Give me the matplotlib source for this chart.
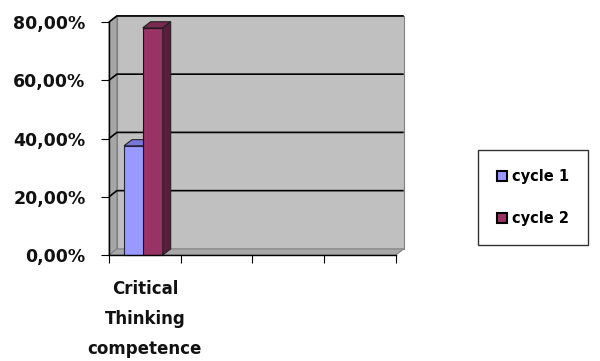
import matplotlib.pyplot as plt
from matplotlib.patches import Polygon, Rectangle

# data
categories = ["Critical\nThinking\ncompetence", "", "", ""]
series_names = ["cycle 1", "cycle 2"]
cycle1 = [37.5, None, None, None]
cycle2 = [78.0, None, None, None]
y_ticks = [0, 20, 40, 60, 80]

FRONT = ["#9999FF", "#993366"]
TOP = ["#7777DD", "#7A2850"]
SIDE = ["#6666AA", "#5A1E3C"]
WALL = "#C0C0C0"
SIDE_WALL = "#A6A6A6"
FLOOR = "#A8A8A8"

fig = plt.figure(figsize=(6.0, 3.61), dpi=100)
ax = fig.add_axes([0.1817, 0.2936, 0.478, 0.6454])
ax.set_xlim(0, len(categories))
ax.set_ylim(0, 80)

dx, dy = 0.11, 2.1  # depth offset of the 3D box
n = len(categories)
ymax = y_ticks[-1]

# walls
ax.add_patch(Polygon([(dx, dy), (n + dx, dy), (n + dx, ymax + dy), (dx, ymax + dy)],
                     closed=True, fc=WALL, ec="#808080", lw=0.8, clip_on=False, zorder=1))
ax.add_patch(Polygon([(0, 0), (dx, dy), (dx, ymax + dy), (0, ymax)],
                     closed=True, fc=SIDE_WALL, ec="#808080", lw=0.8, clip_on=False, zorder=1))
ax.add_patch(Polygon([(0, 0), (n, 0), (n + dx, dy), (dx, dy)],
                     closed=True, fc=FLOOR, ec="#808080", lw=0.8, clip_on=False, zorder=1))
for t in y_ticks[1:]:
    ax.plot([0, dx, n + dx], [t, t + dy, t + dy], color="black", lw=1.2,
            clip_on=False, zorder=2, solid_capstyle="butt")

# bars
starts = [0.21, 0.47]
width = 0.28
for k, vals in enumerate([cycle1, cycle2]):
    for i, v in enumerate(vals):
        if v is None:
            continue
        x0 = i + starts[k]
        x1 = x0 + width
        z = 3 + k
        ax.add_patch(Rectangle((x0, 0), width, v, fc=FRONT[k], ec="#222244" if k == 0 else "#2a0a1a",
                               lw=0.8, zorder=z, clip_on=False))
        ax.add_patch(Polygon([(x0, v), (x1, v), (x1 + dx, v + dy), (x0 + dx, v + dy)],
                             closed=True, fc=TOP[k], ec="#222222", lw=0.8, zorder=z, clip_on=False))
        ax.add_patch(Polygon([(x1, 0), (x1 + dx, dy), (x1 + dx, v + dy), (x1, v)],
                             closed=True, fc=SIDE[k], ec="#222222", lw=0.8, zorder=z, clip_on=False))

# axes
for s in ["top", "right"]:
    ax.spines[s].set_visible(False)
for s in ["left", "bottom"]:
    ax.spines[s].set_color("black")
    ax.spines[s].set_linewidth(1.0)
    ax.spines[s].set_zorder(6)
ax.set_yticks(y_ticks)
ax.set_yticklabels([f"{t:.2f}".replace(".", ",") + "%" for t in y_ticks],
                   fontsize=12.5, fontweight="bold", color="#111111")
ax.set_xticks(range(n + 1))
ax.set_xticklabels([])
ax.tick_params(axis="y", direction="out", length=6, pad=11)
ax.tick_params(axis="x", direction="out", length=6)
ax.set_facecolor("none")

for i, c in enumerate(categories):
    if c:
        ax.text(i + 0.5, -8.6, c, ha="center", va="top", fontsize=12, fontweight="bold",
                linespacing=1.85, color="#111111", clip_on=False)

handles = [Rectangle((0, 0), 1, 1, fc=FRONT[k], ec="black", lw=1.5) for k in range(2)]
leg = fig.legend(handles, series_names, loc="upper left", bbox_to_anchor=(0.797, 0.585),
                 frameon=True, fancybox=False, edgecolor="black",
                 prop={"weight": "bold", "size": 10.5}, handlelength=0.7, handleheight=0.7,
                 handletextpad=0.3, labelspacing=1.9, borderpad=1.3, borderaxespad=0)
leg.get_frame().set_linewidth(1.0)

fig.savefig("out.png", dpi=100)
